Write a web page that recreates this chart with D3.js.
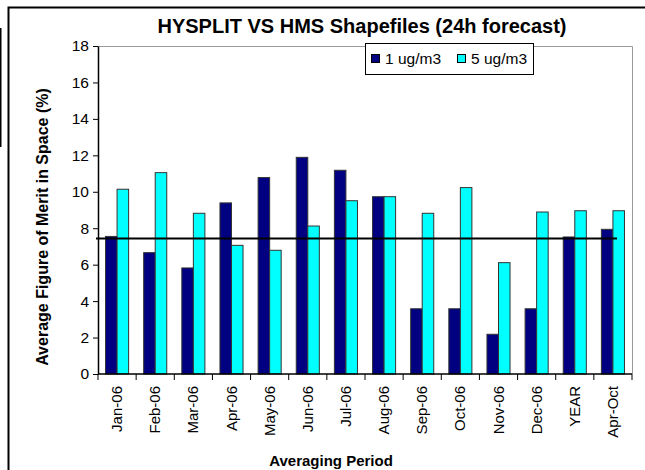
<!DOCTYPE html>
<html>
<head>
<meta charset="utf-8">
<script src="https://cdn.jsdelivr.net/npm/d3@7"></script>
<style>
  html, body { margin: 0; padding: 0; background: #fff; }
  svg { display: block; font-family: Arial, "Liberation Sans", sans-serif; }
</style>
</head>
<body>
<svg id="chart" width="645" height="470"></svg>
<script>
// Averaging periods along the x axis
const periods = ["Jan-06", "Feb-06", "Mar-06", "Apr-06", "May-06", "Jun-06", "Jul-06",
                 "Aug-06", "Sep-06", "Oct-06", "Nov-06", "Dec-06", "YEAR", "Apr-Oct"];
// Average figure of merit in space (%) per threshold
const fms1 = [7.55, 6.66, 5.82, 9.39, 10.78, 11.89, 11.18, 9.73, 3.58, 3.58, 2.18, 3.58, 7.52, 7.94];
const fms5 = [10.14, 11.05, 8.82, 7.06, 6.79, 8.12, 9.51, 9.73, 8.82, 10.23, 6.11, 8.89, 8.96, 8.96];
const seriesNames = ["1 ug/m3", "5 ug/m3"];
const seriesColors = ["#000080", "#00ffff"];
const yTicks = [0, 2, 4, 6, 8, 10, 12, 14, 16, 18];
const referenceLevel = [7.43];

const svg = d3.select("#chart");
const plot = { left: 98, right: 632, top: 46, bottom: 374 };

// Outer frame
svg.append("rect").attr("x", 8.5).attr("y", 7.5).attr("width", 645).attr("height", 470)
  .attr("fill", "none").attr("stroke", "#000").attr("stroke-width", 2);
svg.append("line").attr("x1", 0.5).attr("x2", 0.5).attr("y1", 28).attr("y2", 147)
  .attr("stroke", "#000").attr("stroke-width", 2);

const x = d3.scaleBand().domain(periods).range([plot.left, plot.right]).paddingInner(0).paddingOuter(0);
const y = d3.scaleLinear().domain([0, 18]).range([plot.bottom, plot.top]);
const groupW = x.bandwidth() * 0.605;
const barW = groupW / 2;

// Plot area border (top and right)
svg.append("path")
  .attr("d", `M${plot.left},${plot.top + 0.5}H${plot.right + 0.5}V${plot.bottom}`)
  .attr("fill", "none").attr("stroke", "#999").attr("stroke-width", 1);

// Bars
const series = [fms1, fms5];
series.forEach((vals, si) => {
  svg.append("g").selectAll("rect").data(vals).join("rect")
    .attr("x", (d, i) => x(periods[i]) + (x.bandwidth() - groupW) / 2 + si * barW)
    .attr("y", d => y(d))
    .attr("width", barW)
    .attr("height", d => y(0) - y(d))
    .attr("fill", seriesColors[si])
    .attr("stroke", "#333").attr("stroke-width", 1);
});

// Horizontal reference line
svg.append("g").selectAll("line").data(referenceLevel).join("line")
  .attr("x1", plot.left - 2).attr("x2", 617)
  .attr("y1", d => y(d)).attr("y2", d => y(d))
  .attr("stroke", "#000").attr("stroke-width", 2);

// Y axis
const yAxis = svg.append("g").attr("transform", `translate(${plot.left},0)`)
  .call(d3.axisLeft(y).tickValues(yTicks).tickSize(5).tickPadding(4).tickSizeOuter(0));
yAxis.select(".domain").attr("stroke", "#000").attr("stroke-width", 1.5);
yAxis.selectAll(".tick line").attr("stroke", "#000");
yAxis.selectAll(".tick text").attr("font-size", 15.5).attr("fill", "#000")
  .attr("font-family", "Arial, 'Liberation Sans', sans-serif");

// X axis: ticks at category boundaries
const xAxisG = svg.append("g").attr("transform", `translate(0,${plot.bottom})`);
xAxisG.append("line").attr("x1", plot.left).attr("x2", plot.right)
  .attr("stroke", "#000").attr("stroke-width", 1.5);
const boundaries = periods.map(p => x(p)).concat([plot.right]);
xAxisG.selectAll("line.tk").data(boundaries).join("line").attr("class", "tk")
  .attr("x1", d => d).attr("x2", d => d).attr("y1", 0).attr("y2", 6)
  .attr("stroke", "#000");
xAxisG.selectAll("text").data(periods).join("text")
  .attr("transform", d => `translate(${x(d) + x.bandwidth() / 2 + 5},12) rotate(-90)`)
  .attr("text-anchor", "end")
  .attr("font-size", 15)
  .text(d => d);

// Title and axis titles
svg.append("text").attr("x", 362).attr("y", 33).attr("text-anchor", "middle")
  .attr("font-size", 20).attr("font-weight", "bold").text("HYSPLIT VS HMS Shapefiles (24h forecast)");
svg.append("text").attr("transform", "translate(48,227) rotate(-90)").attr("text-anchor", "middle")
  .attr("font-size", 16).attr("font-weight", "bold").text("Average Figure of Merit in Space (%)");
svg.append("text").attr("x", 331).attr("y", 466).attr("text-anchor", "middle")
  .attr("font-size", 15).attr("font-weight", "bold").text("Averaging Period");

// Legend
const lg = svg.append("g");
lg.append("rect").attr("x", 365.5).attr("y", 43.5).attr("width", 168).attr("height", 31)
  .attr("fill", "#fff").attr("stroke", "#000");
const legendX = [371, 457];
seriesNames.forEach((name, i) => {
  lg.append("rect").attr("x", legendX[i] + 0.5).attr("y", 54.5).attr("width", 8).attr("height", 8)
    .attr("fill", seriesColors[i]).attr("stroke", "#000");
  lg.append("text").attr("x", legendX[i] + 14).attr("y", 64).attr("font-size", 15.5).text(name);
});
</script>
</body>
</html>
